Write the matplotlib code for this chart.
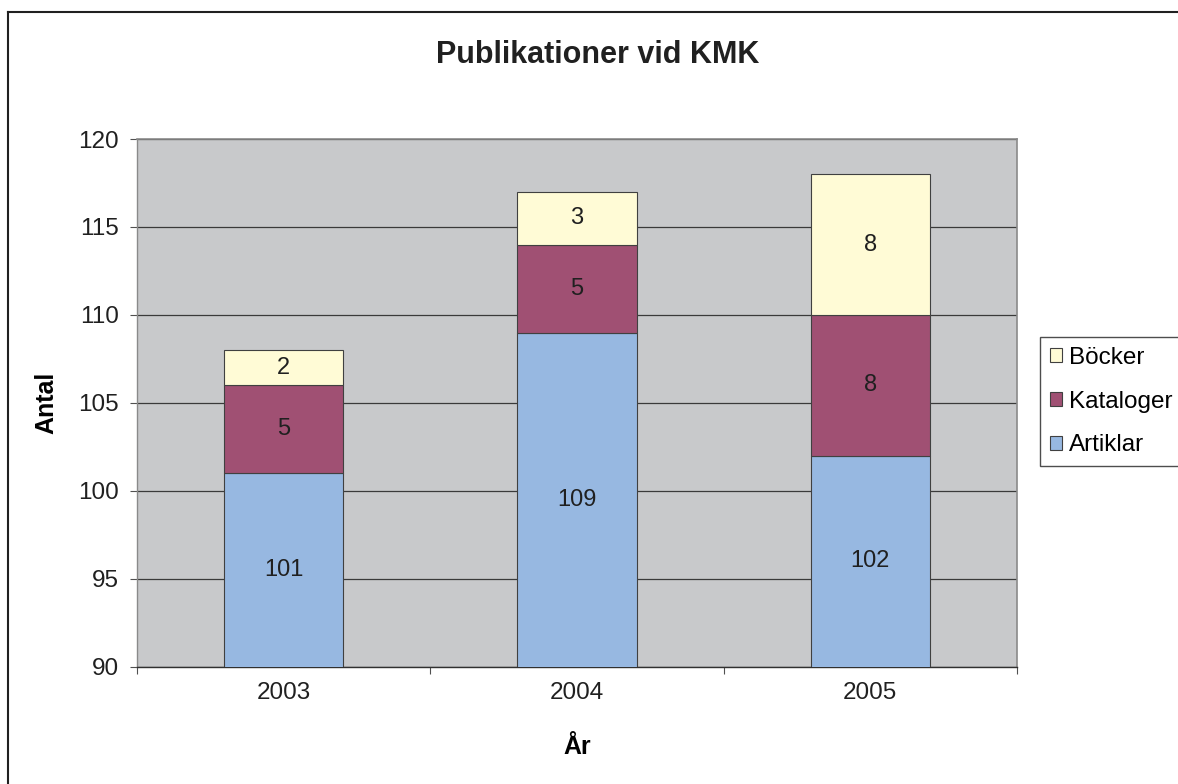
import numpy as np
import matplotlib
matplotlib.use("Agg")
import matplotlib.pyplot as plt
from matplotlib.lines import Line2D

years = ["2003", "2004", "2005"]
artiklar = [101, 109, 102]
kataloger = [5, 5, 8]
bocker = [2, 3, 8]

plt.rcParams['font.family'] = ['Liberation Sans', 'DejaVu Sans']

fig = plt.figure(figsize=(11.78, 7.84), dpi=100)
ax = fig.add_axes([137 / 1178, 1 - 667 / 784, 880 / 1178, 528 / 784])
ax.set_facecolor('#C8C9CB')

x = np.arange(len(years))
w = 0.406
edge = '#404040'
b1 = ax.bar(x, artiklar, w, bottom=0, color='#97B8E1', edgecolor=edge, linewidth=0.8, zorder=3, label='Artiklar')
bottom2 = np.array(artiklar)
b2 = ax.bar(x, kataloger, w, bottom=bottom2, color='#A05073', edgecolor=edge, linewidth=0.8, zorder=3, label='Kataloger')
bottom3 = bottom2 + np.array(kataloger)
b3 = ax.bar(x, bocker, w, bottom=bottom3, color='#FFFBD6', edgecolor=edge, linewidth=0.8, zorder=3, label='Böcker')

# value labels in the middle of each visible segment
for i in range(len(years)):
    ax.text(x[i], (90 + artiklar[i]) / 2, str(artiklar[i]), ha='center', va='center', fontsize=17, color='#202020', zorder=4)
    ax.text(x[i], bottom2[i] + kataloger[i] / 2, str(kataloger[i]), ha='center', va='center', fontsize=17, color='#202020', zorder=4)
    ax.text(x[i], bottom3[i] + bocker[i] / 2, str(bocker[i]), ha='center', va='center', fontsize=17, color='#202020', zorder=4)

ax.set_ylim(90, 120)
ax.set_xlim(-0.5, 2.5)
ax.set_yticks(np.arange(90, 121, 5))
ax.yaxis.grid(True, color='#3a3a3a', linewidth=0.9, zorder=0)
ax.set_axisbelow(True)

ax.set_xticks(x)
ax.set_xticklabels(years)
ax.set_xticks([-0.5, 0.5, 1.5, 2.5], minor=True)
ax.tick_params(axis='x', which='major', length=0, pad=11, labelsize=17.5, colors='#202020')
ax.tick_params(axis='x', which='minor', length=5, width=0.8, direction='out', color='#505050')
ax.tick_params(axis='y', length=5, width=0.8, direction='out', pad=8, labelsize=17.5, colors='#202020')
ax.tick_params(axis='y', color='#505050')

for s in ['top', 'right']:
    ax.spines[s].set_color('#8a8a8a')
    ax.spines[s].set_linewidth(1.2)
ax.spines['left'].set_color('#8a8a8a')
ax.spines['left'].set_linewidth(1.0)
ax.spines['bottom'].set_color('#303030')
ax.spines['bottom'].set_linewidth(1.0)

ax.set_ylabel('Antal', fontsize=18, fontweight='bold', labelpad=14)
ax.set_xlabel('År', fontsize=18, fontweight='bold', labelpad=22)
fig.text(598 / 1178, 1 - 55 / 784, 'Publikationer vid KMK', ha='center', va='center', fontsize=22, fontweight='bold', color='#202020')

handles = [b3, b2, b1]
leg = fig.legend(handles, ['Böcker', 'Kataloger', 'Artiklar'], loc='upper left',
                 bbox_to_anchor=(1040 / 1178, 1 - 337 / 784), fontsize=17.5,
                 frameon=True, fancybox=False, edgecolor='#202020',
                 handlelength=0.5, handleheight=0.5, handletextpad=0.3,
                 labelspacing=0.9, borderpad=0.4, borderaxespad=0)
leg.get_frame().set_linewidth(1.0)

# outer chart frame
fig.add_artist(Line2D([8 / 1178, 8 / 1178], [0, 1 - 12 / 784], color='#202020', linewidth=1.5))
fig.add_artist(Line2D([8 / 1178, 1], [1 - 12 / 784, 1 - 12 / 784], color='#202020', linewidth=1.5))

fig.savefig('out.png', dpi=100)
